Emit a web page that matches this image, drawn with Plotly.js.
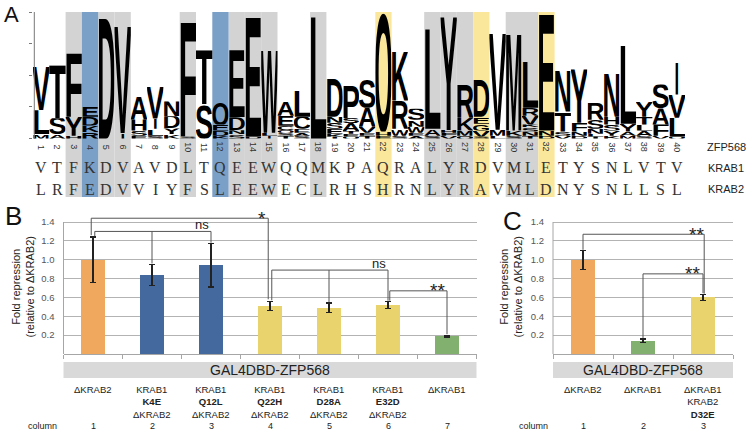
<!DOCTYPE html>
<html><head><meta charset="utf-8">
<script src="https://cdn.plot.ly/plotly-3.0.1.min.js"></script>
<style>html,body{margin:0;padding:0;background:#fff}#chart{width:750px;height:430px}</style>
</head><body><div id="chart"></div>
<script>
// ================= DATA =================
// Panel A: sequence logo (ZFP568) + aligned KRAB1 / KRAB2 sequences
const logoPositions = [1,2,3,4,5,6,7,8,9,10,11,12,13,14,15,16,17,18,19,20,21,22,23,24,25,26,27,28,29,30,31,32,33,34,35,36,37,38,39,40];
const krab1Seq = ['V','T','F','K','D','V','A','V','D','L','T','Q','E','E','W','Q','Q','M','K','P','A','Q','R','A','L','Y','R','D','V','M','L','E','T','Y','S','N','L','V','T','V'];
const krab2Seq = ['L','R','F','E','D','V','V','I','Y','F','S','L','E','E','W','E','C','L','R','H','S','H','R','N','L','Y','R','A','V','M','L','D','N','Y','S','N','L','L','S','L'];
const rowLabels = ['ZFP568','KRAB1','KRAB2'];
const greyCols = [3,5,6,10,13,14,15,18,25,26,27,30,31];
const blueCols = [4,12];
const yellowCols = [22,28,32];
// letter stacks, bottom to top: [letter, height in bits]
const logoStacks = [
 [['M',0.13],['L',0.76],['V',1.39]],
 [['A',0.13],['S',0.51],['T',1.68]],
 [['H',0.09],['Y',0.60],['F',2.06]],
 [['R',0.19],['K',0.22],['D',0.28],['E',0.32]],
 [['D',3.86]],
 [['I',0.16],['V',3.42]],
 [['E',0.09],['S',0.16],['H',0.35],['A',0.73]],
 [['S',0.09],['L',0.22],['I',0.32],['V',1.04]],
 [['K',0.13],['Y',0.19],['D',0.38],['N',0.47]],
 [['S',0.06],['F',3.67]],
 [['S',1.08],['T',1.71]],
 [['K',0.09],['D',0.16],['E',0.19],['Q',0.70]],
 [['S',0.13],['N',0.13],['D',0.41],['E',2.15]],
 [['D',0.06],['E',3.83]],
 [['I',0.09],['L',0.09],['W',2.63]],
 [['T',0.09],['S',0.09],['Q',0.09],['C',0.13],['E',0.32],['A',0.44]],
 [['S',0.09],['A',0.09],['E',0.13],['C',0.38],['L',0.82]],
 [['L',3.92]],
 [['T',0.06],['K',0.09],['E',0.16],['S',0.19],['N',0.19],['D',1.20]],
 [['Q',0.06],['E',0.09],['T',0.09],['A',0.25],['S',0.16],['P',1.01]],
 [['T',0.09],['E',0.09],['V',0.19],['A',0.60],['S',0.89]],
 [['E',0.09],['H',0.13],['Q',3.73]],
 [['S',0.09],['W',0.22],['R',0.89],['K',1.58]],
 [['A',0.09],['E',0.09],['W',0.19],['N',0.22],['S',0.35]],
 [['S',0.09],['A',0.22],['L',3.20]],
 [['V',0.09],['F',0.09],['H',0.09],['Y',3.64]],
 [['Q',0.09],['M',0.16],['K',0.41],['R',1.08]],
 [['S',0.06],['V',0.19],['G',0.22],['E',0.22],['D',1.17]],
 [['L',0.09],['M',0.19],['V',3.07]],
 [['S',0.09],['K',0.16],['M',3.10]],
 [['T',0.09],['N',0.13],['S',0.13],['K',0.09],['V',0.28],['R',0.25],['L',1.49]],
 [['D',0.09],['N',0.16],['E',3.73]],
 [['V',0.09],['S',0.13],['T',0.63],['N',1.30]],
 [['D',0.09],['N',0.13],['F',0.28],['Y',1.71]],
 [['T',0.06],['L',0.09],['N',0.16],['S',0.28],['R',0.54]],
 [['K',0.09],['Y',0.16],['S',0.19],['H',0.25],['N',1.39]],
 [['M',0.09],['A',0.13],['Y',0.25],['L',2.50]],
 [['S',0.09],['A',0.16],['L',0.19],['T',0.25],['Y',0.47]],
 [['V',0.09],['F',0.35],['A',0.51],['S',0.76]],
 [['Q',0.06],['L',0.60],['V',0.73],['I',1.01]]
];
const logoTicks = [0,1,2,3,4];

// Panel B
const catsB = ['ΔKRAB2','K4E','Q12L','Q22H','D28A','E32D','ΔKRAB1'];
const labelsB = [['ΔKRAB2'],['KRAB1','<b>K4E</b>','ΔKRAB2'],['KRAB1','<b>Q12L</b>','ΔKRAB2'],['KRAB1','<b>Q22H</b>','ΔKRAB2'],['KRAB1','<b>D28A</b>','ΔKRAB2'],['KRAB1','<b>E32D</b>','ΔKRAB2'],['ΔKRAB1']];
const valuesB = [1.00,0.84,0.94,0.51,0.49,0.52,0.19];
const errorsB = [0.24,0.11,0.23,0.05,0.05,0.035,0.01];
const columnB = ['1','2','3','4','5','6','7'];
const sigB = [{bars:[0,3],label:'*'},{bars:[0,1,2],label:'ns'},{bars:[3,4,5],label:'ns'},{bars:[5,6],label:'**'}];

// Panel C
const catsC = ['ΔKRAB2','ΔKRAB1','D32E'];
const labelsC = [['ΔKRAB2'],['ΔKRAB1'],['ΔKRAB1','KRAB2','<b>D32E</b>']];
const valuesC = [1.00,0.14,0.60];
const errorsC = [0.10,0.02,0.035];
const columnC = ['1','2','3'];
const sigC = [{bars:[0,2],label:'**'},{bars:[1,2],label:'**'}];

const yTicks = [0.2,0.4,0.6,0.8,1.0,1.2,1.4];
const groupLabel = 'GAL4DBD-ZFP568';
const yTitle = 'Fold repression<br>(relative to ΔKRAB2)';

// ================= STYLE =================
const W = 750, H = 430;
const FONT = 'Liberation Sans, Arial, sans-serif';
const colorsB = ['#F0A75E','#43699E','#43699E','#E8D36C','#E8D36C','#E8D36C','#82B06F'];
const colorsC = ['#F0A75E','#82B06F','#E8D36C'];
const px = (x) => x / W;
const py = (y) => (H - y) / H;

// plot geometry (pixels)
const bL = 63.5, bR = 476.5, cL = 553, cR = 733, base = 354, top14 = 222;
const yTopPx = base - (base - top14) / 1.4 * 1.5;

function glyph(ch) {
  const w = 1000, h = 700;
  const t = ch === 'I'
    ? `<text x="500" y="0" text-anchor="middle" font-family="Liberation Sans,Arial,sans-serif" font-weight="bold" font-size="1000">I</text>`
    : `<text x="-60" y="0" textLength="1120" lengthAdjust="spacingAndGlyphs" font-family="Liberation Sans,Arial,sans-serif" font-weight="bold" font-size="1000">${ch}</text>`;
  const svg = `<svg xmlns="http://www.w3.org/2000/svg" width="${w}" height="${h}" viewBox="0 -${h} ${w} ${h}" preserveAspectRatio="none">${t}</svg>`;
  return 'data:image/svg+xml;charset=utf-8,' + encodeURIComponent(svg);
}

const shapes = [], annotations = [], images = [];
function ann(o) { annotations.push(Object.assign({showarrow:false, xanchor:'center', yanchor:'middle', borderpad:0}, o)); }

// ---- Panel A ----
const rowY = [-0.27, -0.93, -1.60];
function hl(cols, color) {
  cols.forEach(c => shapes.push({type:'rect', xref:'x3', yref:'y3', x0:c-0.5, x1:c+0.5, y0:-1.85, y1:4,
    fillcolor:color, line:{width:0}, layer:'below'}));
}
hl(greyCols, '#D3D3D3'); hl(blueCols, '#7BA0C8'); hl(yellowCols, '#FBE79C');
shapes.push({type:'line', xref:'x3 domain', yref:'y3', x0:0.002, x1:0.002, y0:0, y1:4, line:{color:'#777', width:1}});

logoStacks.forEach((stack, i) => {
  const pos = logoPositions[i];
  let y = 0;
  stack.forEach(([ch, hgt]) => {
    y += hgt;
    images.push({source: glyph(ch), xref:'x3', yref:'y3', x: pos - 0.5, y: y, sizex: 1, sizey: hgt,
      xanchor:'left', yanchor:'top', sizing:'stretch', layer:'above'});
  });
});
logoPositions.forEach((p, i) => {
  ann({x:p, y:rowY[0], xref:'x3', yref:'y3', text:String(p), textangle:90, font:{family:FONT, size:9, color:'#333'}});
  ann({x:p, y:rowY[1], xref:'x3', yref:'y3', text:krab1Seq[i], font:{family:'Liberation Serif, serif', size:16, color:'#333'}});
  ann({x:p, y:rowY[2], xref:'x3', yref:'y3', text:krab2Seq[i], font:{family:'Liberation Serif, serif', size:16, color:'#333'}});
});
rowLabels.forEach((t, i) => ann({x:px(726), y:rowY[i], xref:'paper', yref:'y3', text:t, font:{family:FONT, size:11, color:'#222'}}));

// ---- Panels B and C ----
function panel(xa, ya, cats, labels, values, errors, column, sig, xL, xR, titleX, colLabelX) {
  const xr = xa.replace('axis', ''), yr = ya.replace('axis', '');
  const dom = xr + ' domain';
  shapes.push({type:'line', xref:'paper', yref:'paper', x0:px(xL), x1:px(xL), y0:py(base), y1:py(top14), line:{color:'#a6a6a6', width:1}});
  shapes.push({type:'rect', xref:dom, yref:'paper', x0:0, x1:1, y0:py(378), y1:py(362), fillcolor:'#D9D9D9', line:{width:0}});
  ann({xref:dom, yref:'paper', x:0.5, y:py(370), text:groupLabel, font:{family:FONT, size:14, color:'#222'}});
  labels.forEach((lines, i) => ann({xref:xr, yref:'paper', x:i, y:py(383), yanchor:'top',
    text:lines.join('<br>'), font:{family:FONT, size:9.5, color:'#222'}}));
  column.forEach((t, i) => ann({xref:xr, yref:'paper', x:i, y:py(425.5), text:t, font:{family:FONT, size:9, color:'#222'}}));
  ann({xref:'paper', yref:'paper', x:px(colLabelX), y:py(425.5), text:'column', font:{family:FONT, size:9, color:'#222'}});
  ann({xref:'paper', yref:'paper', x:px(titleX), y:py(287), text:yTitle, textangle:-90, font:{family:FONT, size:11, color:'#222'}});
  const tipOf = (b) => values[b] + errors[b];
  sig.forEach((s) => {
    const lvl = s.level;
    const legs = s.bars.map((b, j) => {
      let x = b;
      if (j === 0 && s.dxL) x += s.dxL;
      if (j === s.bars.length - 1 && s.dxR) x += s.dxR;
      return [x, tipOf(b) + (s.gap || 0.01)];
    });
    const x0 = legs[0][0], x1 = legs[legs.length - 1][0];
    shapes.push({type:'line', xref:xr, yref:yr, x0:x0, x1:x1, y0:lvl, y1:lvl, line:{color:'#555', width:1}});
    legs.forEach(([x, yEnd]) => shapes.push({type:'line', xref:xr, yref:yr, x0:x, x1:x, y0:lvl, y1:yEnd, line:{color:'#555', width:1}}));
    const isStar = s.label.indexOf('*') >= 0;
    ann({xref:xr, yref:yr, x:x1, y:lvl, text:s.label, xshift: s.tx, yshift: isStar ? 0 : 7,
      font:{family:FONT, size: isStar ? 19 : 13, color:'#222'}});
  });
}

// bracket placement (layout only)
Object.assign(sigB[0], {level:1.44, dxL:-0.03, dxR:-0.03, gap:0.02, tx:-6});
Object.assign(sigB[1], {level:1.30, dxL:0.03, gap:0.01, tx:-9});
Object.assign(sigB[2], {level:0.89, dxL:0.03, gap:0.01, tx:-9});
Object.assign(sigB[3], {level:0.67, dxL:0.03, gap:0.01, tx:-10});
Object.assign(sigC[0], {level:1.27, dxR:0.02, gap:0.005, tx:-8});
Object.assign(sigC[1], {level:0.85, gap:0.01, tx:-11});

panel('xaxis', 'yaxis', catsB, labelsB, valuesB, errorsB, columnB, sigB, bL, bR, 22.5, 42);
panel('xaxis2', 'yaxis2', catsC, labelsC, valuesC, errorsC, columnC, sigC, cL, cR, 510.5, 533);

// panel letters
[['A', 11, 14.5, 22], ['B', 13, 216, 26], ['C', 512, 221, 26]].forEach(([t, x, y, s]) =>
  ann({xref:'paper', yref:'paper', x:px(x), y:py(y), text:t, font:{family:FONT, size:s, color:'#111'}}));

const traces = [
  {type:'bar', x:catsB, y:valuesB, xaxis:'x', yaxis:'y', width:0.41, marker:{color:colorsB},
   error_y:{type:'data', array:errorsB, color:'#222', thickness:1.2, width:3}, hoverinfo:'none'},
  {type:'bar', x:catsC, y:valuesC, xaxis:'x2', yaxis:'y2', width:0.39, marker:{color:colorsC},
   error_y:{type:'data', array:errorsC, color:'#222', thickness:1.2, width:3}, hoverinfo:'none'},
  {type:'scatter', x:[1], y:[0], xaxis:'x3', yaxis:'y3', mode:'markers', marker:{opacity:0}, hoverinfo:'none'}
];

const catAxis = (dom, anchor, cats) => ({domain:dom, anchor:anchor, type:'category', range:[-0.5, cats.length - 0.5],
  showgrid:false, showline:true, linecolor:'#a6a6a6', ticks:'outside', tickson:'boundaries', ticklen:4, tickcolor:'#a6a6a6',
  showticklabels:false, zeroline:false, fixedrange:true});
const valAxis = (anchor) => ({domain:[py(base), py(yTopPx)], anchor:anchor, range:[0, 1.5], tickvals:yTicks,
  ticktext:yTicks.map(v => v.toFixed(1)), showgrid:true, gridcolor:'#b3b3b3', gridwidth:1, zeroline:false, showline:false,
  ticks:'', ticklabelstandoff:8, tickfont:{family:FONT, size:9.5, color:'#555'}, fixedrange:true});

const layout = {
  width:W, height:H, margin:{l:0, r:0, t:0, b:0}, paper_bgcolor:'#fff', plot_bgcolor:'rgba(0,0,0,0)',
  showlegend:false, bargap:0,
  xaxis: catAxis([px(bL), px(bR)], 'y', catsB),
  yaxis: valAxis('x'),
  xaxis2: catAxis([px(cL), px(cR)], 'y2', catsC),
  yaxis2: valAxis('x2'),
  xaxis3: {domain:[px(33), px(685)], anchor:'y3', range:[0.5, 40.5], visible:false, fixedrange:true},
  yaxis3: {domain:[py(197), py(12)], anchor:'x3', range:[-1.85, 4], tickvals:logoTicks, ticks:'outside', ticklen:3,
    tickcolor:'#777', showticklabels:false, showgrid:false, zeroline:false, showline:false, fixedrange:true},
  shapes: shapes, annotations: annotations, images: images,
  font:{family:FONT}
};
Plotly.newPlot('chart', traces, layout, {staticPlot:true, displayModeBar:false});
</script></body></html>
